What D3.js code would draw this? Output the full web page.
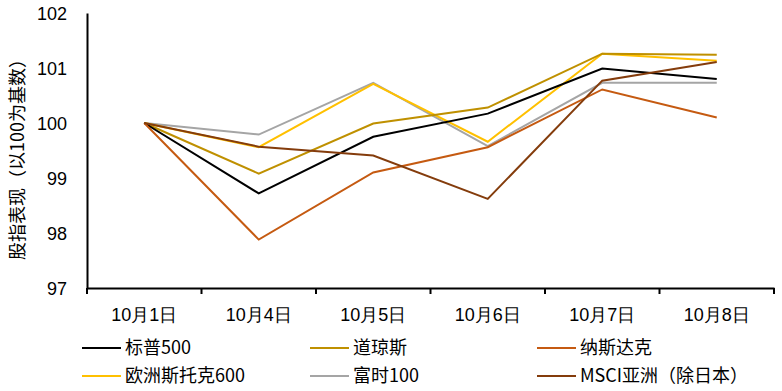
<!DOCTYPE html>
<html>
<head>
<meta charset="utf-8">
<script src="https://cdn.jsdelivr.net/npm/d3@7"></script>
<style>
  body { margin: 0; background: #fff; }
  svg { display: block; font-family: "Noto Sans CJK SC", "Noto Sans", sans-serif; }
</style>
</head>
<body>
<svg></svg>
<script>
const dates = ["10月1日", "10月4日", "10月5日", "10月6日", "10月7日", "10月8日"];
const seriesNames = ["标普500", "道琼斯", "纳斯达克", "欧洲斯托克600", "富时100", "MSCI亚洲（除日本）"];
const spx     = [100, 98.72, 99.75, 100.17, 100.99, 100.80];
const dow     = [100, 99.08, 99.99, 100.28, 101.26, 101.24];
const nasdaq  = [100, 97.88, 99.10, 99.56, 100.61, 100.10];
const stoxx   = [100, 99.56, 100.71, 99.66, 101.26, 101.13];
const ftse    = [100, 99.79, 100.73, 99.58, 100.73, 100.73];
const msciAsia = [100, 99.57, 99.41, 98.62, 100.77, 101.11];
const yTicks = [97, 98, 99, 100, 101, 102];
const colors = ["#000000", "#BF9000", "#C55A11", "#FFC000", "#A5A5A5", "#843C0C"];

const allSeries = [spx, dow, nasdaq, stoxx, ftse, msciAsia];
// draw order: gray/yellow first so darker lines sit on top
const drawOrder = [4, 3, 1, 0, 2, 5];

const width = 782;
const height = 391;
const padLeft = 87, padRight = 774, padTop = 13, padBottom = 288;
const fontSize = "18px";

const svg = d3.select("svg")
    .attr("width", width)
    .attr("height", height);

const xScale = d3.scaleBand()
    .domain(dates)
    .range([padLeft, padRight]);

const yScale = d3.scaleLinear()
    .domain([97, 102])
    .range([padBottom, padTop]);

// y axis
const yAxis = d3.axisLeft(yScale)
    .tickValues(yTicks)
    .tickFormat(d3.format("d"))
    .tickSize(0)
    .tickPadding(20);

const gy = svg.append("g")
    .attr("transform", `translate(${padLeft}, 0)`)
    .call(yAxis);
gy.select(".domain").attr("stroke", "#000").attr("stroke-width", 2);
gy.selectAll("text")
    .attr("fill", "#000")
    .style("font-size", fontSize)
    .attr("dy", "0.35em");

// x axis
const xAxis = d3.axisBottom(xScale)
    .tickSize(0)
    .tickPadding(20);

const gx = svg.append("g")
    .attr("transform", `translate(0, ${padBottom})`)
    .call(xAxis);
gx.select(".domain").attr("stroke", "#000").attr("stroke-width", 2);
gx.selectAll("text")
    .attr("fill", "#000")
    .style("font-size", fontSize);

// band boundary ticks
const edges = dates.map(d => xScale(d)).concat([xScale(dates[dates.length - 1]) + xScale.bandwidth()]);
gx.selectAll("line.edge")
  .data(edges)
  .enter()
  .append("line")
    .attr("class", "edge")
    .attr("x1", d => d)
    .attr("x2", d => d)
    .attr("y1", 0)
    .attr("y2", 6)
    .attr("stroke", "#000")
    .attr("stroke-width", 2);

// lines
const line = d3.line()
    .x((d, i) => xScale(dates[i]) + xScale.bandwidth() / 2)
    .y(d => yScale(d));

svg.append("g")
  .selectAll("path")
  .data(drawOrder)
  .enter()
  .append("path")
    .attr("d", i => line(allSeries[i]))
    .attr("fill", "none")
    .attr("stroke", i => colors[i])
    .attr("stroke-width", 2)
    .attr("stroke-linejoin", "miter");

// y axis label
svg.append("text")
    .attr("transform", "rotate(-90)")
    .attr("x", -155)
    .attr("y", 18)
    .attr("dy", "0.35em")
    .style("text-anchor", "middle")
    .style("font-size", fontSize)
    .text("股指表现（以100为基数）");

// legend
const legendCols = [82, 310, 537];
const legendRows = [348, 376];
const legend = svg.append("g")
  .selectAll("g")
  .data(seriesNames)
  .enter()
  .append("g")
    .attr("transform", (d, i) => `translate(${legendCols[i % 3]}, ${legendRows[Math.floor(i / 3)]})`);

legend.append("line")
    .attr("x1", 0)
    .attr("x2", 39)
    .attr("y1", 0)
    .attr("y2", 0)
    .attr("stroke", (d, i) => colors[i])
    .attr("stroke-width", 2);

legend.append("text")
    .attr("x", 43)
    .attr("y", 0)
    .attr("dy", "0.35em")
    .style("font-size", fontSize)
    .text(d => d);
</script>
</body>
</html>
